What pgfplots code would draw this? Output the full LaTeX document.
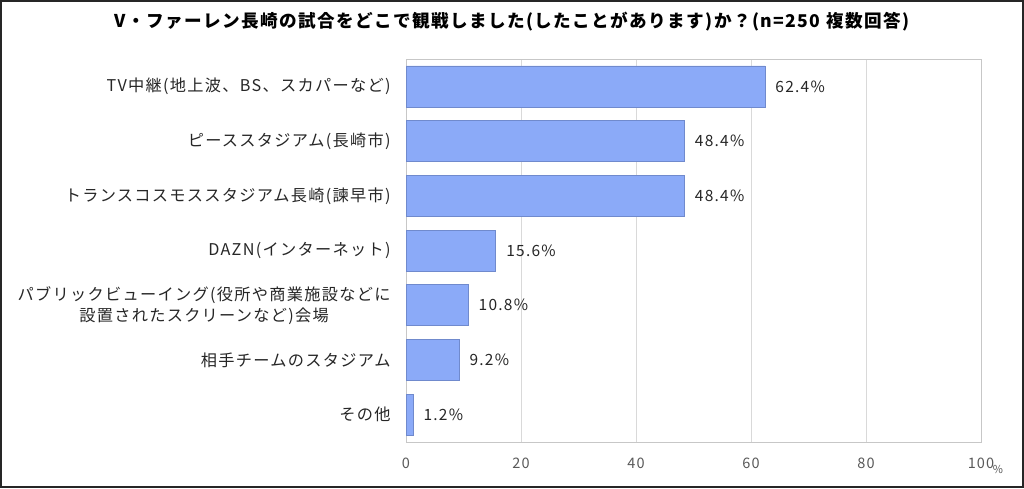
\documentclass[border=0pt]{standalone}
\usepackage{fontspec}
\usepackage{pgfplots}
\pgfplotsset{compat=1.18}
\setmainfont{Noto Sans CJK JP}[LetterSpace=8]
\definecolor{barfill}{RGB}{139,170,248}
\definecolor{barline}{RGB}{112,138,205}
\definecolor{txt}{RGB}{38,38,38}
\definecolor{ticktxt}{RGB}{89,89,89}
\begin{document}
\begin{tikzpicture}
\useasboundingbox (0,0) rectangle (1024pt,488pt);
\draw[line width=2pt, black!85] (1pt,1pt) rectangle (1023pt,487pt);
\node[font=\bfseries\fontsize{17.6}{20}\selectfont, text=black] at (512pt,466pt) {V・ファーレン長崎の試合をどこで観戦しました(したことがあります)か？(n=250 複数回答)};
\begin{axis}[
  at={(406pt,46pt)}, anchor=south west,
  scale only axis, width=575pt, height=383pt,
  xbar, bar width=41pt,
  xmin=0, xmax=100, ymin=-0.5, ymax=6.5,
  xtick={0,20,40,60,80,100},
  ytick={0,1,2,3,4,5,6},
  yticklabels={その他, 相手チームのスタジアム, {パブリックビューイング(役所や商業施設などに\\設置されたスクリーンなど)会場}, DAZN(インターネット), トランスコスモススタジアム長崎(諫早市), ピーススタジアム(長崎市), TV中継(地上波、BS、スカパーなど)},
  /pgf/number format/assume math mode=true,
  xmajorgrids, grid style={draw=black!15},
  axis line style={draw=black!22},
  tick style={draw=none},
  yticklabel style={align=center, inner sep=0pt, xshift=-11pt, font=\fontsize{16.2}{21}\selectfont, text=txt},
  xticklabel style={yshift=-12pt, font=\fontsize{14.5}{16}\selectfont, text=ticktxt},
  nodes near coords={\pgfmathprintnumber[fixed,fixed zerofill,precision=1]{\pgfplotspointmeta}\%},
  nodes near coords style={anchor=west, xshift=7pt, font=\fontsize{15.5}{18}\selectfont, text=txt},
  clip=false,
]
\addplot[fill=barfill, draw=barline, line width=0.6pt] coordinates {
  (1.2,0) (9.2,1) (10.8,2) (15.6,3) (48.4,4) (48.4,5) (62.4,6)
};
\end{axis}
\node[font=\fontsize{11}{12}\selectfont, text=ticktxt] at (998pt,19pt) {\%};
\end{tikzpicture}
\end{document}
